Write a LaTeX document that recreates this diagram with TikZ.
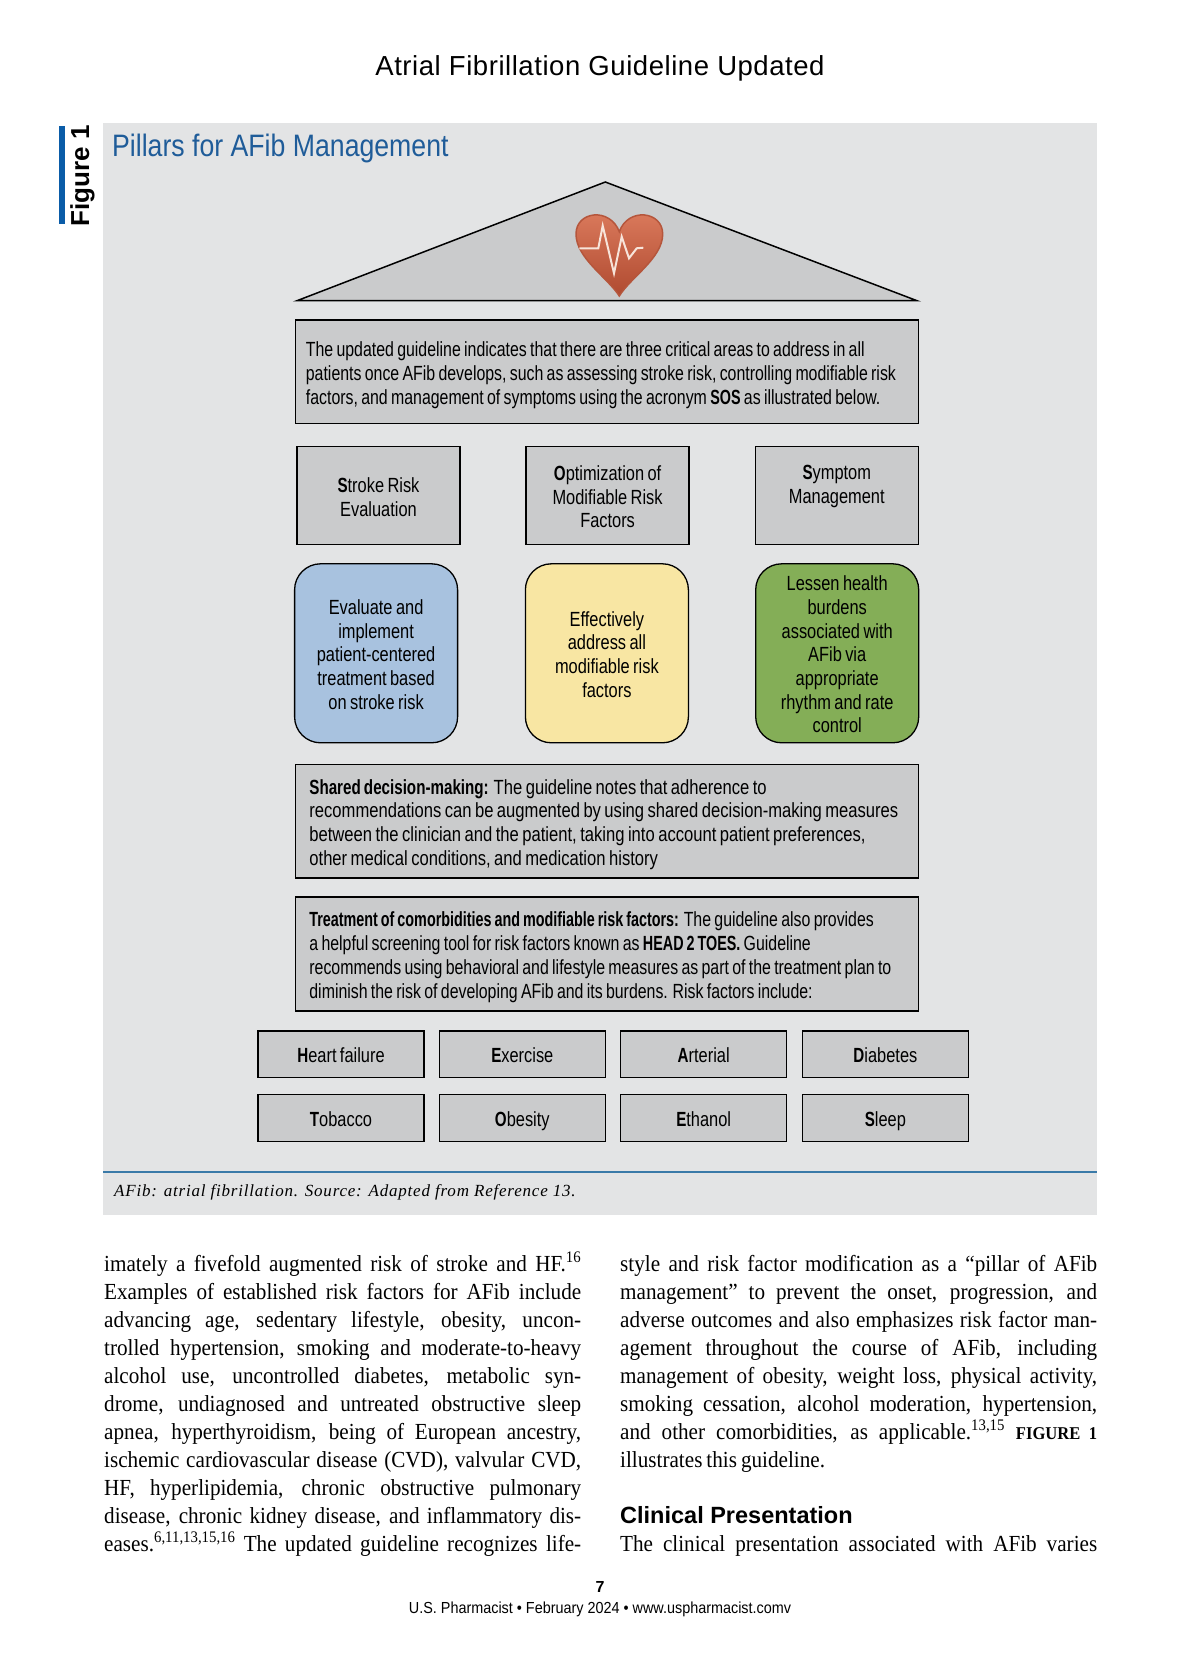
\documentclass[tikz,border=0pt]{standalone}
\usepackage{fontspec}
\usepackage{xcolor}
\setmainfont{Liberation Sans}
\newfontfamily\headfont[LetterSpace=2]{Liberation Sans}
\newfontfamily\footfont[FakeStretch=0.9]{Liberation Sans}
\newfontfamily\boxfont[FakeStretch=0.8, BoldFeatures={FakeStretch=0.74}, WordSpace=0.75]{Liberation Sans}
\newfontfamily\tightfont[FakeStretch=0.775, BoldFeatures={FakeStretch=0.7}, WordSpace=0.75]{Liberation Sans}
\newfontfamily\loosefont[FakeStretch=0.81, BoldFeatures={FakeStretch=0.74}, WordSpace=0.75]{Liberation Sans}
\newfontfamily\pillarfont[FakeStretch=0.86]{Liberation Sans}
\newfontfamily\pagefont[FakeStretch=0.92, WordSpace=0.75]{Liberation Serif}
\newfontfamily\notefont[LetterSpace=4.7]{Liberation Serif}
\definecolor{panelgray}{HTML}{E3E4E5}
\definecolor{boxgray}{HTML}{CACBCC}
\definecolor{pillarblue}{HTML}{1F5C99}
\definecolor{barblue}{HTML}{0A5CA8}
\definecolor{rulesblue}{HTML}{3A7AA8}
\definecolor{softblue}{HTML}{A8C2DF}
\definecolor{softyellow}{HTML}{F8E6A3}
\definecolor{softgreen}{HTML}{84AE57}
\definecolor{heartlight}{HTML}{DC7C5E}
\definecolor{heartdark}{HTML}{B04A30}
\definecolor{heartedge}{HTML}{B5563C}
\definecolor{heartline}{HTML}{F7E4DA}
\newcommand{\fitline}[1]{\makebox[477pt][s]{#1}}
\tikzset{
    boxbase/.style={draw=black, line width=1.3pt, inner sep=0pt, align=flush center,
        font=\boxfont\fontsize{20.5}{23.7}\selectfont,
        execute at begin node={\rule[-6pt]{0pt}{29pt}},
        execute at end node={\rule[-6pt]{0pt}{6pt}}},
    widebox/.style={boxbase, fill=boxgray, minimum width=623pt, text width=595pt, align=flush left},
    headbox/.style={boxbase, fill=boxgray, text width=163pt, minimum height=98pt},
    goalbox/.style={boxbase, rounded corners=26pt, text width=163pt, minimum height=179pt},
    factorbox/.style={boxbase, fill=boxgray, minimum width=166pt, minimum height=46.5pt},
    columntext/.style={inner sep=0pt, anchor=north west, align=left,
        font=\pagefont\fontsize{23}{28}\selectfont,
        execute at begin node={\rule{0pt}{26pt}}}
}
\begin{document}
\begin{tikzpicture}[x=1pt, y=-1pt]
    \useasboundingbox (0, 0) rectangle (1200, 1665);

    % page head
    \node[font=\headfont\fontsize{27.5}{32}\selectfont] (pagetitle) at (600, 68) {Atrial Fibrillation Guideline Updated};

    % panel
    \fill[panelgray] (103.3, 123) rectangle (1097, 1215);
    \fill[barblue] (59, 125.7) rectangle (65, 224);
    \node[rotate=90, font=\bfseries\fontsize{26}{30}\selectfont] (figlabel) at (82.5, 176) {Figure 1};
    \node[anchor=west, inner sep=0pt, text=pillarblue, font=\pillarfont\fontsize{31}{34}\selectfont] (paneltitle) at (112, 148) {Pillars for AFib Management};

    % roof and heart
    \draw[fill=boxgray, line width=1.5pt, line join=miter] (605.3, 182) -- (917, 300.7) -- (297, 300.7) -- cycle;
    \shadedraw[top color=heartlight, bottom color=heartdark, draw=heartedge, line width=1.5pt]
        (619.3, 296) .. controls (607, 277) and (576, 258) .. (576, 234)
        .. controls (576, 211) and (610, 207) .. (619.3, 231.7)
        .. controls (628, 207) and (662.7, 211) .. (662.7, 234)
        .. controls (662.7, 258) and (631, 277) .. (619.3, 296) -- cycle;
    \draw[heartline, line width=2pt, line join=miter] (579.3, 248.3) -- (598.3, 248.3) -- (602.7, 225.7) -- (614, 273.3)
        -- (621.7, 236.7) -- (629, 258.3) -- (636.7, 248.3) -- (643.3, 247.7);

    % intro box
    \node[widebox, minimum height=103.6pt, text width=602pt, font=\tightfont\fontsize{20.5}{23.7}\selectfont] (intro) at (606.9, 371.8)
        {The updated guideline indicates that there are three critical areas to address in all\\
         patients once AFib develops, such as assessing stroke risk, controlling modifiable risk\\
         factors, and management of symptoms using the acronym \textbf{SOS} as illustrated below.};

    % SOS heads
    \node[headbox] (head-s) at (378.5, 495.7) {\textbf{S}troke Risk\\Evaluation};
    \node[headbox] (head-o) at (607.6, 495.7) {\textbf{O}ptimization of\\Modifiable Risk\\Factors};
    \node[headbox] (head-m) at (836.8, 495.7) {\textbf{S}ymptom\\Management\\\strut};

    % goals
    \node[goalbox, fill=softblue] (goal-s) at (376.1, 653.3)
        {Evaluate and\\implement\\patient-centered\\treatment based\\on stroke risk};
    \node[goalbox, fill=softyellow] (goal-o) at (606.9, 653.3)
        {Effectively\\address all\\modifiable risk\\factors};
    \node[goalbox, fill=softgreen] (goal-m) at (837.2, 653.3)
        {Lessen health\\burdens\\associated with\\AFib via\\appropriate\\rhythm and rate\\control};

    % shared decision box and comorbidity box
    \node[widebox, minimum height=113.5pt, font=\loosefont\fontsize{20.5}{23.7}\selectfont] (shared) at (606.9, 821.2)
        {\textbf{Shared decision-making:} The guideline notes that adherence to\\
         recommendations can be augmented by using shared decision-making measures\\
         between the clinician and the patient, taking into account patient preferences,\\
         other medical conditions, and medication history};
    \node[widebox, minimum height=114pt, font=\tightfont\fontsize{20.5}{23.7}\selectfont] (comorbid) at (606.9, 954)
        {\textbf{Treatment of comorbidities and modifiable risk factors:} The guideline also provides\\
         a helpful screening tool for risk factors known as \textbf{HEAD 2 TOES.} Guideline\\
         recommends using behavioral and lifestyle measures as part of the treatment plan to\\
         diminish the risk of developing AFib and its burdens. Risk factors include:};

    % risk factors
    \foreach \name/\px/\py/\first/\rest in {
        heart/341/1054.2/H/eart failure, exercise/522.3/1054.2/E/xercise,
        arterial/703.7/1054.2/A/rterial, diabetes/885.4/1054.2/D/iabetes,
        tobacco/341/1118/T/obacco, obesity/522.3/1118/O/besity,
        ethanol/703.7/1118/E/thanol, sleep/885.4/1118/S/leep} {
        \node[factorbox] (factor-\name) at (\px, \py) {\textbf{\first}\rest};
    }

    % panel foot
    \draw[rulesblue, line width=1.5pt] (103.3, 1172) -- (1097, 1172);
    \node[anchor=west, inner sep=0pt, font=\notefont\itshape\fontsize{17}{20}\selectfont] (panelnote) at (114, 1192)
        {AFib: atrial fibrillation. Source: Adapted from Reference 13.};

    % running text
    \node[columntext] (col-left) at (104, 1252)
        {\fitline{imately a fivefold augmented risk of stroke and HF.\textsuperscript{16}}\\
         \fitline{Examples of established risk factors for AFib include}\\
         \fitline{advancing age, sedentary lifestyle, obesity, uncon-}\\
         \fitline{trolled hypertension, smoking and moderate-to-heavy}\\
         \fitline{alcohol use, uncontrolled diabetes, metabolic syn-}\\
         \fitline{drome, undiagnosed and untreated obstructive sleep}\\
         \fitline{apnea, hyperthyroidism, being of European ancestry,}\\
         \fitline{ischemic cardiovascular disease (CVD), valvular CVD,}\\
         \fitline{HF, hyperlipidemia, chronic obstructive pulmonary}\\
         \fitline{disease, chronic kidney disease, and inflammatory dis-}\\
         \fitline{eases.\textsuperscript{6,11,13,15,16} The updated guideline recognizes life-}};
    \node[columntext] (col-right) at (620, 1255)
        {\fitline{style and risk factor modification as a “pillar of AFib}\\
         \fitline{management” to prevent the onset, progression, and}\\
         \fitline{adverse outcomes and also emphasizes risk factor man-}\\
         \fitline{agement throughout the course of AFib, including}\\
         \fitline{management of obesity, weight loss, physical activity,}\\
         \fitline{smoking cessation, alcohol moderation, hypertension,}\\
         \fitline{and other comorbidities, as applicable.\textsuperscript{13,15} {\bfseries\fontsize{18}{28}\selectfont FIGURE 1}}\\
         illustrates this guideline.};
    \node[anchor=west, inner sep=0pt, font=\bfseries\fontsize{23.5}{26}\selectfont] (clinical) at (620, 1515) {Clinical Presentation};
    \node[columntext] (col-last) at (620, 1525) {\fitline{The clinical presentation associated with AFib varies}};

    % page foot
    \node[font=\bfseries\fontsize{16}{18}\selectfont] (pagenum) at (600, 1587) {7};
    \node[font=\footfont\fontsize{16}{18}\selectfont] (pagefoot) at (600, 1609) {U.S. Pharmacist • February 2024 • www.uspharmacist.comv};
\end{tikzpicture}
\end{document}
